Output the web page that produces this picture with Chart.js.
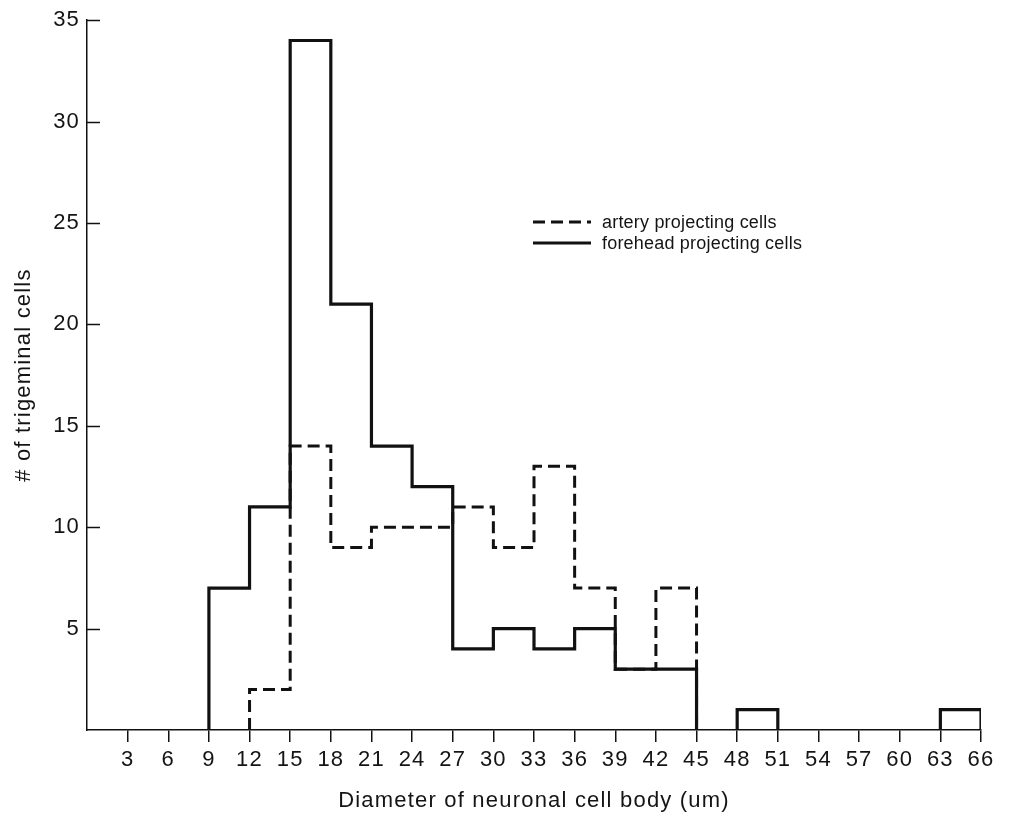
<!DOCTYPE html>
<html>
<head>
<meta charset="utf-8">
<script src="https://cdn.jsdelivr.net/npm/chart.js@4"></script>
<style>
  html, body { margin: 0; padding: 0; background: #ffffff; }
  #wrap { position: relative; width: 1012px; height: 814px; }
</style>
</head>
<body>
<div id="wrap"><canvas id="c"></canvas></div>
<script>
// Bin edges (um) and counts per 3-um bin
const binEdges = [0,3,6,9,12,15,18,21,24,27,30,33,36,39,42,45,48,51,54,57,60,63,66];
const foreheadCounts = [0,0,0,7,11,34,21,14,12,4,5,4,5,3,3,0,1,0,0,0,0,1];
const arteryCounts   = [0,0,0,0,2,14,9,10,10,11,9,13,7,3,7,0,0,0,0,0,0,0];
const xTickValues = [3,6,9,12,15,18,21,24,27,30,33,36,39,42,45,48,51,54,57,60,63,66];
const yTickValues = [5,10,15,20,25,30,35];
const seriesNames = ['artery projecting cells', 'forehead projecting cells'];
const xTitle = 'Diameter of neuronal cell body (um)';
const yTitle = '# of trigeminal cells';

// Build histogram outline points (stepped) from edges + counts; gaps where count is 0
function buildSteps(edges, counts) {
  const pts = [];
  let i = 0;
  while (i < counts.length) {
    if (counts[i] === 0) { i++; continue; }
    if (pts.length) pts.push({x: edges[i] - 0.01, y: null});
    pts.push({x: edges[i], y: 0});
    let j = i;
    while (j < counts.length && counts[j] !== 0) {
      pts.push({x: edges[j], y: counts[j]});
      j++;
    }
    pts.push({x: edges[j], y: 0});
    i = j;
  }
  return pts;
}

const INK = '#111111';
const TEXT = '#141414';
const FONT = '"Liberation Sans", Arial, Helvetica, sans-serif';

const spacing = {
  id: 'spacing',
  beforeDraw(chart) { chart.ctx.letterSpacing = '1.2px'; }
};

const innerYTicks = {
  id: 'innerYTicks',
  afterDraw(chart) {
    const ctx = chart.ctx, ys = chart.scales.y, area = chart.chartArea;
    ctx.save();
    ctx.strokeStyle = INK; ctx.lineWidth = 1.5;
    yTickValues.forEach(v => {
      const py = Math.round(ys.getPixelForValue(v)) + 0.5;
      ctx.beginPath(); ctx.moveTo(area.left, py); ctx.lineTo(area.left + 13, py); ctx.stroke();
    });
    ctx.restore();
  }
};

const insideLegend = {
  id: 'insideLegend',
  afterDraw(chart) {
    const ctx = chart.ctx;
    const x0 = 533, x1 = 591, tx = 602;
    const rows = [
      {y: 222, dash: [12, 6], label: seriesNames[0]},
      {y: 243, dash: [], label: seriesNames[1]}
    ];
    ctx.save();
    rows.forEach(r => {
      ctx.strokeStyle = INK; ctx.lineWidth = 3; ctx.setLineDash(r.dash);
      ctx.beginPath(); ctx.moveTo(x0, r.y); ctx.lineTo(x1, r.y); ctx.stroke();
      ctx.setLineDash([]);
      ctx.fillStyle = TEXT;
      ctx.font = '18px ' + FONT;
      ctx.letterSpacing = '0.2px';
      ctx.textBaseline = 'middle';
      ctx.textAlign = 'left';
      ctx.fillText(r.label, tx, r.y + 1);
    });
    ctx.restore();
  }
};

new Chart(document.getElementById('c'), {
  type: 'line',
  data: {
    datasets: [
      {
        label: seriesNames[1],
        data: buildSteps(binEdges, foreheadCounts),
        borderColor: INK, borderWidth: 3.2, stepped: 'before',
        pointRadius: 0, spanGaps: false, fill: false,
        borderJoinStyle: 'miter', borderCapStyle: 'butt'
      },
      {
        label: seriesNames[0],
        data: buildSteps(binEdges, arteryCounts),
        borderColor: INK, borderWidth: 3, borderDash: [12, 6], stepped: 'before',
        pointRadius: 0, spanGaps: false, fill: false,
        borderJoinStyle: 'miter', borderCapStyle: 'butt'
      }
    ]
  },
  options: {
    responsive: true,
    maintainAspectRatio: false,
    animation: false,
    events: [],
    layout: { padding: { left: 0, right: 31, top: 19, bottom: 0 } },
    plugins: { legend: { display: false }, tooltip: { enabled: false } },
    scales: {
      x: {
        type: 'linear', min: 0, max: 66,
        afterBuildTicks(scale) { scale.ticks = [{value: 0}].concat(xTickValues.map(v => ({value: v}))); },
        ticks: {
          color: TEXT, font: { family: FONT, size: 22 }, padding: 5, maxRotation: 0, autoSkip: false,
          callback: (v) => (v === 0 ? '' : String(v))
        },
        grid: {
          drawOnChartArea: false, drawTicks: true, tickLength: 12, lineWidth: 1.5,
          color: (ctx) => (ctx.tick && ctx.tick.value === 0 ? 'rgba(0,0,0,0)' : INK)
        },
        border: { display: true, color: INK, width: 1.5 },
        title: { display: true, text: xTitle, color: TEXT, font: { family: FONT, size: 22 }, padding: { top: 0, bottom: 0 } },
        afterFit(scale) { scale.height = 84; }
      },
      y: {
        type: 'linear', min: 0, max: 35,
        afterBuildTicks(scale) { scale.ticks = [{value: 0}].concat(yTickValues.map(v => ({value: v}))); },
        ticks: {
          color: TEXT, font: { family: FONT, size: 22 }, padding: 7, autoSkip: false,
          callback: (v) => (v === 0 ? '' : String(v))
        },
        grid: { drawOnChartArea: false, drawTicks: false, tickLength: 0 },
        border: { display: true, color: INK, width: 1.5 },
        title: { display: true, text: yTitle, color: TEXT, font: { family: FONT, size: 22 }, padding: { top: 11, bottom: 0 } },
        afterFit(scale) { scale.width = 87; }
      }
    }
  },
  plugins: [spacing, innerYTicks, insideLegend]
});
</script>
</body>
</html>
